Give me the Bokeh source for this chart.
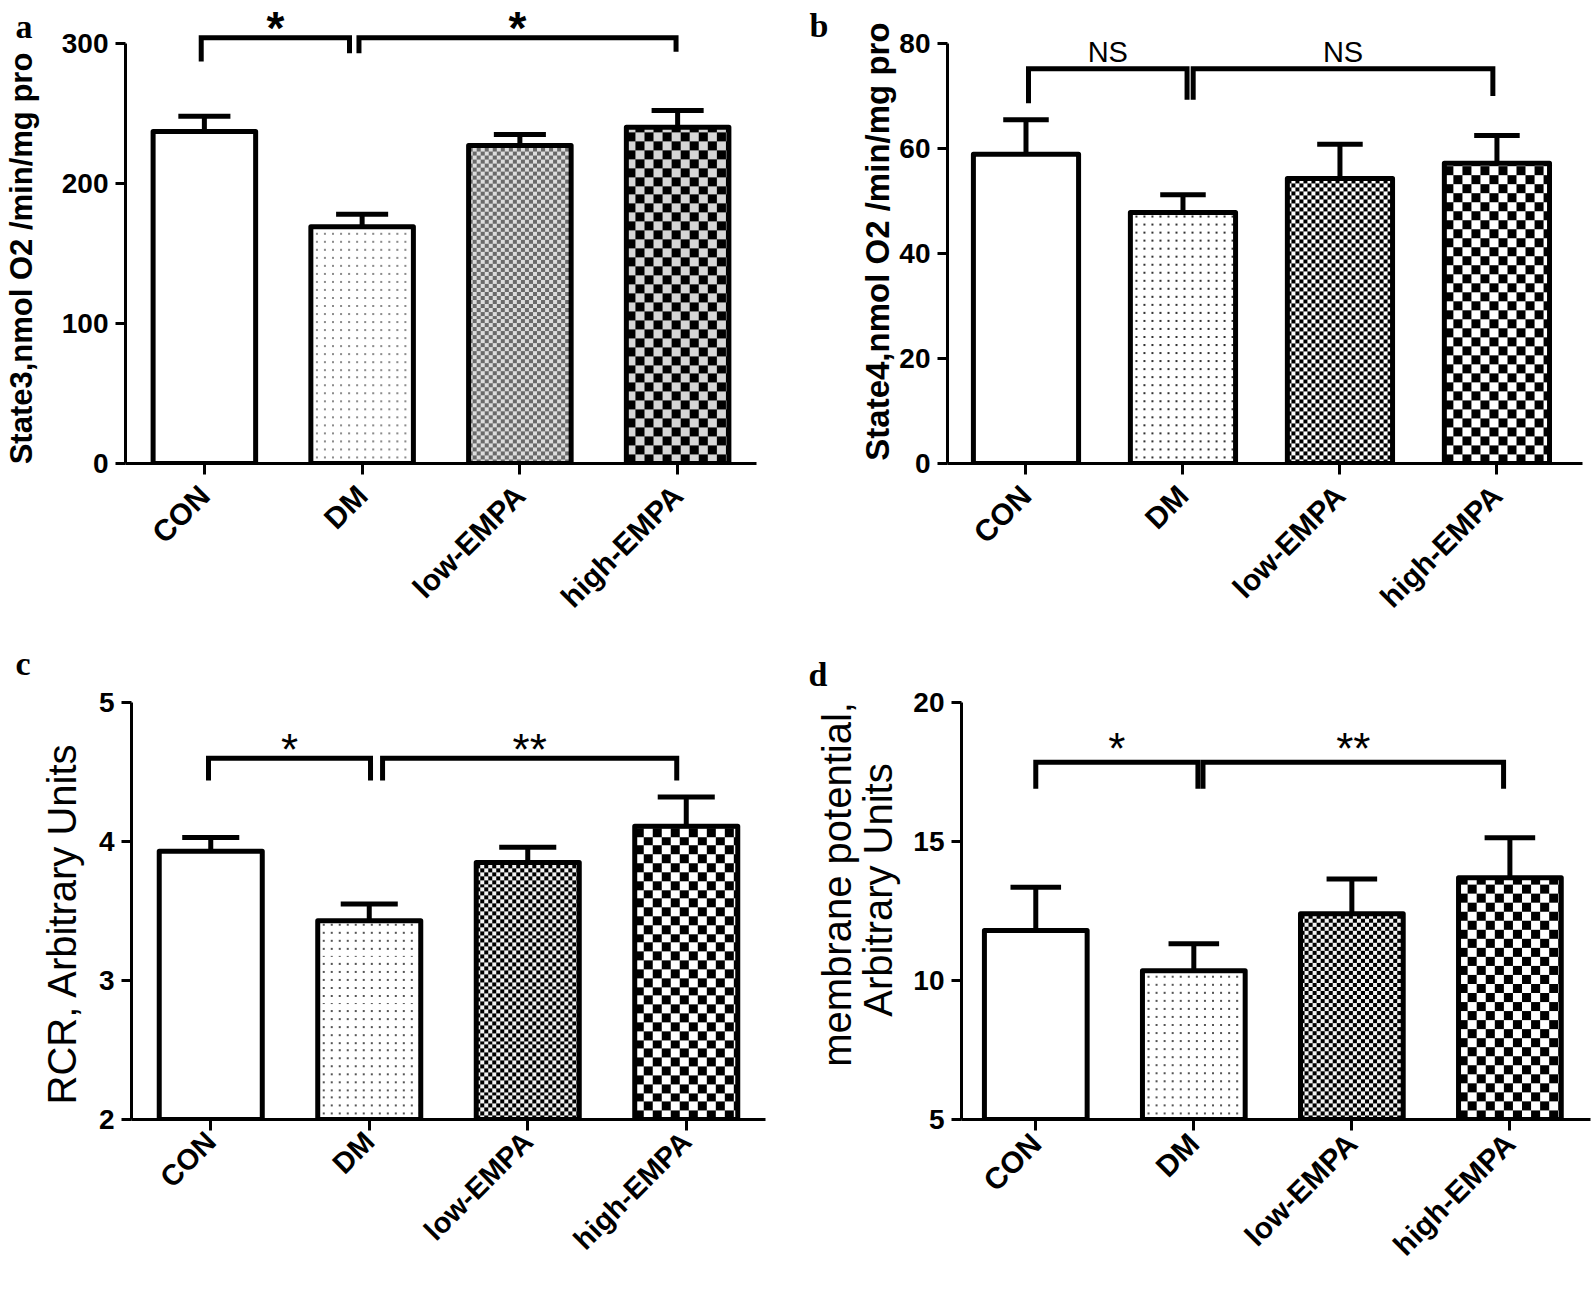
import math
import numpy as np
from bokeh.plotting import figure
from bokeh.models import ColumnDataSource, Label, FixedTicker, Range1d
from bokeh.layouts import column, row
from bokeh.embed import file_html
from bokeh.resources import INLINE
from bokeh.core.properties import value

# ---------------- data ----------------
categories = ["CON", "DM", "low-EMPA", "high-EMPA"]

state3_mean = [237, 169, 227, 240]
state3_sem = [11, 9, 8, 12]
state4_mean = [58.9, 47.8, 54.3, 57.2]
state4_sem = [6.6, 3.4, 6.5, 5.3]
rcr_mean = [3.93, 3.43, 3.85, 4.11]
rcr_sem = [0.10, 0.12, 0.11, 0.21]
mp_mean = [11.8, 10.35, 12.4, 13.7]
mp_sem = [1.55, 0.97, 1.25, 1.43]

state3_ticks = [0, 100, 200, 300]
state4_ticks = [0, 20, 40, 60, 80]
rcr_ticks = [2, 3, 4, 5]
mp_ticks = [5, 10, 15, 20]

# significance brackets: (from group, to group, bracket level, label)
state3_sig = [(0, 1, 304, "*"), (1, 3, 304, "*")]
state4_sig = [(0, 1, 75.2, "NS"), (1, 3, 75.2, "NS")]
rcr_sig = [(0, 1, 4.60, "*"), (1, 3, 4.60, "**")]
mp_sig = [(0, 1, 17.85, "*"), (1, 3, 17.85, "**")]

FONT = "Liberation Sans"
NB = "\u00a0"


def rgba(hexcol):
    h = hexcol.lstrip("#")
    r, g, b = int(h[0:2], 16), int(h[2:4], 16), int(h[4:6], 16)
    return (255 << 24) | (b << 16) | (g << 8) | r


def pattern_img(kind, w, h, fg, bg):
    yy, xx = np.mgrid[0:h, 0:w]
    if kind == "dots":
        mask = (((xx + 3) % 8) < 2) & (((yy + 3) % 8) < 2)
    elif kind == "fine":
        mask = ((xx // 4) + (yy // 4)) % 2 == 0
    else:
        mask = ((xx // 9) + (yy // 9)) % 2 == 0
    return np.where(mask, rgba(fg), rgba(bg)).astype(np.uint32)


def make_panel(letter, ylab, means, sems, yticks, sig, g, s):
    centers = [i + 0.5 for i in range(len(categories))]
    y0 = yticks[0]
    p = figure(width=g["w"], height=g["h"],
               x_range=Range1d(g["x0"], g["x1"]), y_range=Range1d(y0, g["y1"]),
               min_border_left=g["left"], min_border_right=g["w"] - g["left"] - g["fw"],
               min_border_top=g["top"], min_border_bottom=g["h"] - g["top"] - g["fh"],
               output_backend="svg", toolbar_location=None, tools="")
    p.background_fill_color = "white"
    p.border_fill_color = "white"
    p.outline_line_color = None
    p.xgrid.visible = False
    p.ygrid.visible = False

    bw = s["bw"]
    pxx = g["fw"] / (g["x1"] - g["x0"])
    pxy = g["fh"] / (g["y1"] - y0)

    # patterned fills as images placed on the bars
    kinds = [None, "dots", "fine", "coarse"]
    imgs, ix, iy, idw, idh = [], [], [], [], []
    for c, m, k in zip(centers, means, kinds):
        if k is None:
            continue
        fg, bg = s["cols"][k]
        wpx = int(round(bw * pxx))
        hpx = int(round((m - y0) * pxy))
        imgs.append(pattern_img(k, wpx, hpx, fg, bg))
        ix.append(c - bw / 2)
        iy.append(y0)
        idw.append(bw)
        idh.append(m - y0)
    p.image_rgba(image=imgs, x=ix, y=iy, dw=idw, dh=idh)

    err = [m + e for m, e in zip(means, sems)]
    src = ColumnDataSource(dict(
        x=centers, top=means, bottom=[y0] * len(means), err=err,
        cl=[c - s["cap"] for c in centers], cr=[c + s["cap"] for c in centers],
        fa=[1 if k is None else 0 for k in kinds]))
    p.vbar(x="x", top="top", bottom="bottom", width=bw, source=src,
           fill_color="white", fill_alpha="fa", line_color="black", line_width=5,
           line_join="round")
    p.segment(x0="x", y0="top", x1="x", y1="err", source=src, line_color="black", line_width=5)
    p.segment(x0="cl", y0="err", x1="cr", y1="err", source=src, line_color="black", line_width=5)

    bx, by, tx, ty, tt = [], [], [], [], []
    for (i, j, lev, lab), (o0, o1, d0, d1) in zip(sig, s["brk"]):
        x0 = centers[i] + o0
        x1 = centers[j] + o1
        bx.append([x0, x0, x1, x1])
        by.append([lev - d0, lev, lev, lev - d1])
        tx.append((x0 + x1) / 2)
        ty.append(lev)
        tt.append(lab)
    p.multi_line(xs=bx, ys=by, line_color="black", line_width=5, line_join="miter")
    p.text(x=tx, y=ty, text=tt, text_font=value(FONT), text_font_size=s["sfs"],
           text_font_style=s["sfst"], text_align="center", text_baseline="alphabetic",
           y_offset=s["soff"], text_color="black")

    xa = p.xaxis[0]
    xa.ticker = FixedTicker(ticks=centers)
    xa.major_label_overrides = {c: n for c, n in zip(centers, categories)}
    xa.major_label_orientation = math.pi / 4
    xa.major_label_text_font = FONT
    xa.major_label_text_font_style = "bold"
    xa.major_label_text_font_size = s["xfs"]
    xa.major_label_text_color = "black"
    xa.major_label_standoff = s["xso"]
    xa.major_tick_out = 11
    xa.major_tick_in = 0
    xa.minor_tick_line_color = None
    xa.axis_line_width = 3
    xa.major_tick_line_width = 3
    xa.axis_line_color = "black"
    xa.major_tick_line_color = "black"

    ya = p.yaxis[0]
    ya.ticker = FixedTicker(ticks=yticks)
    ya.bounds = (yticks[0], yticks[-1])
    ya.axis_label = ylab
    ya.axis_label_text_font = FONT
    ya.axis_label_text_font_style = s["lst"]
    ya.axis_label_text_font_size = s["lfs"]
    ya.axis_label_text_line_height = 0.95
    ya.axis_label_text_color = "black"
    ya.axis_label_standoff = s["lso"]
    ya.major_label_text_font = FONT
    ya.major_label_text_font_style = "bold"
    ya.major_label_text_font_size = "28px"
    ya.major_label_text_color = "black"
    ya.major_label_standoff = 7
    ya.major_tick_out = 10
    ya.major_tick_in = 0
    ya.minor_tick_line_color = None
    ya.axis_line_width = 3
    ya.major_tick_line_width = 3
    ya.axis_line_color = "black"
    ya.major_tick_line_color = "black"

    # panel letter, placed in a side panel (not clipped to the frame)
    side, lx, ly = g["letter"]
    p.add_layout(Label(x=lx, y=ly, x_units="screen", y_units="screen", text=letter,
                       text_font="Liberation Serif", text_font_style="bold",
                       text_font_size="34px", text_baseline="alphabetic",
                       text_align="left", text_color="black"), side)
    return p


cols_a = {"dots": ("#8c8c8c", "#ffffff"), "fine": ("#6a6a6a", "#dcdcdc"), "coarse": ("#000000", "#d6d6d6")}
cols_b = {"dots": ("#333333", "#ffffff"), "fine": ("#000000", "#ffffff"), "coarse": ("#000000", "#ffffff")}
cols_cd = {"dots": ("#555555", "#ffffff"), "fine": ("#000000", "#f2f2f2"), "coarse": ("#000000", "#ffffff")}

pa = make_panel("a", "State3,nmol O2 /min/mg pro" + NB * 5, state3_mean, state3_sem, state3_ticks, state3_sig,
                dict(w=790, h=632, left=125, top=10, fw=631, fh=455, x0=0, x1=4.0, y1=323.45,
                     letter=("right", 15 - 756, 465 - 37 + 9)),
                dict(cols=cols_a, bw=0.65, cap=0.165,
                     brk=[(-0.02, -0.08, 17, 11), (-0.02, -0.01, 11, 10)],
                     sfs="46px", sfst="bold", soff=-10, lst="bold", lfs="31px", lso=20,
                     xfs="30px", xso=16))

pb = make_panel("b", "State4,nmol O2 /min/mg pro" + NB, state4_mean, state4_sem, state4_ticks, state4_sig,
                dict(w=805, h=632, left=157, top=10, fw=635, fh=453, x0=0, x1=4.045, y1=86.29,
                     letter=("left", -28, 463 - 35 + 10)),
                dict(cols=cols_b, bw=0.67, cap=0.145,
                     brk=[(0.016, 0.026, 6.6, 5.9), (0.065, -0.026, 5.9, 5.2)],
                     sfs="29px", sfst="normal", soff=-17, lst="bold", lfs="33px", lso=0,
                     xfs="30px", xso=16))

pc = make_panel("c", "RCR, Arbitrary Units" + NB * 6, rcr_mean, rcr_sem, rcr_ticks, rcr_sig,
                dict(w=790, h=655, left=131, top=28, fw=634, fh=468, x0=0, x1=4.0, y1=5.303,
                     letter=("right", 15 - 765, 496 - 40)),
                dict(cols=cols_cd, bw=0.65, cap=0.18,
                     brk=[(-0.014, 0.008, 0.16, 0.16), (0.084, -0.06, 0.16, 0.16)],
                     sfs="44px", sfst="normal", soff=-9, lst="normal", lfs="40px", lso=12,
                     xfs="29px", xso=6))

pd_ = make_panel("d", NB + "membrane potential,\nArbitrary Units", mp_mean, mp_sem, mp_ticks, mp_sig,
                 dict(w=805, h=655, left=171, top=28, fw=629, fh=459, x0=0.03, x1=4.01, y1=21.51,
                      letter=("left", 16, 487 - 53 + 11)),
                 dict(cols=cols_cd, bw=0.65, cap=0.16,
                      brk=[(0.0, 0.026, 0.95, 0.95), (0.058, -0.04, 0.95, 0.95)],
                      sfs="44px", sfst="normal", soff=-14, lst="normal", lfs="40px", lso=10,
                      xfs="30px", xso=8))

layout = column(row(pa, pb), row(pc, pd_))
open("out.html", "w").write(file_html(layout, INLINE))
